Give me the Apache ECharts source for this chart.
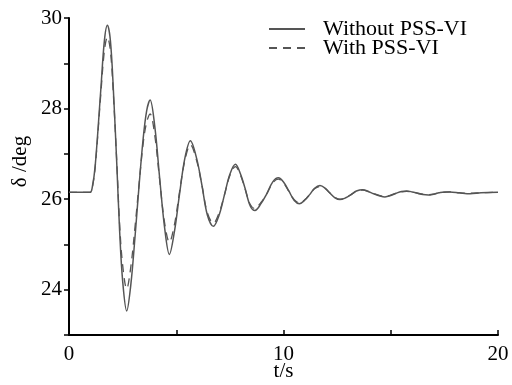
<!DOCTYPE html>
<html>
<head>
<meta charset="utf-8">
<script src="https://cdn.jsdelivr.net/npm/echarts@6/dist/echarts.min.js"></script>
<style>html,body{margin:0;padding:0;background:#fff}#c{width:512px;height:385px}</style>
</head>
<body>
<div id="c"></div>
<script>
var times = [0, 0.98, 1.08, 1.22, 1.48, 1.65, 1.79, 1.93, 2.07, 2.23, 2.36, 2.5, 2.69, 2.88, 3.08, 3.25, 3.45, 3.62, 3.78, 4.0, 4.22, 4.45, 4.68, 4.92, 5.15, 5.4, 5.66, 5.95, 6.2, 6.45, 6.73, 7.0, 7.25, 7.5, 7.76, 8.0, 8.2, 8.45, 8.67, 8.95, 9.2, 9.5, 9.76, 10.0, 10.25, 10.5, 10.74, 11.0, 11.22, 11.45, 11.7, 11.95, 12.15, 12.4, 12.63, 12.9, 13.15, 13.4, 13.7, 13.95, 14.2, 14.5, 14.73, 15.0, 15.25, 15.5, 15.74, 16.0, 16.25, 16.5, 16.75, 17.0, 17.25, 17.5, 17.76, 18.2, 18.7, 19.2, 20];
var withoutPSS = [26.15, 26.15, 26.25, 26.73, 28.4, 29.5, 29.84, 29.5, 28.4, 26.75, 25.3, 24.2, 23.53, 24.1, 25.18, 26.2, 27.3, 27.95, 28.19, 27.6, 26.5, 25.4, 24.78, 25.3, 26.1, 26.9, 27.29, 26.9, 26.3, 25.65, 25.4, 25.65, 26.1, 26.55, 26.77, 26.55, 26.25, 25.85, 25.75, 25.9, 26.1, 26.38, 26.47, 26.38, 26.18, 25.97, 25.9, 25.98, 26.1, 26.24, 26.3, 26.24, 26.14, 26.03, 25.99, 26.03, 26.1, 26.18, 26.21, 26.17, 26.12, 26.07, 26.05, 26.08, 26.13, 26.17, 26.18, 26.16, 26.13, 26.1, 26.09, 26.11, 26.14, 26.16, 26.16, 26.14, 26.12, 26.14, 26.15];
var withPSS = [26.15, 26.15, 26.24, 26.7, 28.3, 29.28, 29.58, 29.28, 28.3, 26.8, 25.45, 24.55, 24.02, 24.5, 25.4, 26.25, 27.2, 27.7, 27.88, 27.4, 26.45, 25.5, 25.05, 25.45, 26.15, 26.85, 27.2, 26.85, 26.3, 25.7, 25.47, 25.7, 26.1, 26.52, 26.72, 26.52, 26.24, 25.88, 25.79, 25.93, 26.1, 26.36, 26.44, 26.36, 26.17, 25.99, 25.92, 25.99, 26.1, 26.23, 26.28, 26.23, 26.14, 26.04, 26.0, 26.04, 26.1, 26.17, 26.2, 26.17, 26.12, 26.08, 26.06, 26.09, 26.13, 26.16, 26.17, 26.16, 26.13, 26.11, 26.1, 26.11, 26.14, 26.15, 26.16, 26.14, 26.13, 26.14, 26.15];
var seriesNames = ['Without PSS-VI', 'With PSS-VI'];
var xLabels = [0, 10, 20];
var yLabels = [24, 26, 28, 30];

function pairs(t, v) { return t.map(function (x, i) { return [x, v[i]]; }); }

var FONT = 'Liberation Serif';
var chart = echarts.init(document.getElementById('c'), null, { renderer: 'canvas' });
chart.setOption({
  animation: false,
  backgroundColor: '#fff',
  grid: { left: 69, right: 14, top: 18, bottom: 50, containLabel: false, outerBoundsMode: 'none' },
  legend: {
    show: true,
    orient: 'vertical',
    left: 263,
    top: 13,
    itemWidth: 36,
    itemHeight: 14,
    itemGap: -3,
    data: seriesNames,
    itemStyle: { opacity: 0 },
    textStyle: { fontFamily: FONT, fontSize: 22, color: '#000', lineHeight: 19, padding: [0, 0, 0, 13] }
  },
  xAxis: {
    type: 'value', min: 0, max: 20, interval: 5,
    name: 't/s', nameLocation: 'middle', nameGap: 26, nameMoveOverlap: false,
    nameTextStyle: { fontFamily: FONT, fontSize: 21, color: '#000' },
    axisLine: { lineStyle: { color: '#000', width: 2 } },
    axisTick: { inside: true, length: 5, lineStyle: { color: '#000', width: 1.5 } },
    axisLabel: { fontFamily: FONT, fontSize: 21, color: '#000', margin: 9,
      formatter: function (v) { return xLabels.indexOf(v) >= 0 ? String(v) : ''; } },
    splitLine: { show: false }
  },
  yAxis: {
    type: 'value', min: 23, max: 30, interval: 1,
    name: 'δ /deg', nameLocation: 'middle', nameGap: 38, nameRotate: 90, nameMoveOverlap: false,
    nameTextStyle: { fontFamily: FONT, fontSize: 21, color: '#000', padding: [0, 0, 0, 30] },
    axisLine: { show: true, lineStyle: { color: '#000', width: 2 } },
    axisTick: { show: true, inside: false, length: 5, lineStyle: { color: '#000', width: 1.5 } },
    axisLabel: { fontFamily: FONT, fontSize: 21, color: '#000', margin: 7,
      formatter: function (v) { return yLabels.indexOf(v) >= 0 ? String(v) : ''; } },
    splitLine: { show: false }
  },
  series: [
    { name: seriesNames[0], type: 'line', smooth: 0.35, symbol: 'none',
      data: pairs(times, withoutPSS),
      lineStyle: { color: '#555', width: 1.5, type: 'solid' }, itemStyle: { color: '#555' } },
    { name: seriesNames[1], type: 'line', smooth: 0.35, symbol: 'none',
      data: pairs(times, withPSS),
      lineStyle: { color: '#555', width: 1.3, type: [8, 6] }, itemStyle: { color: '#555' } }
  ]
});
</script>
</body>
</html>
